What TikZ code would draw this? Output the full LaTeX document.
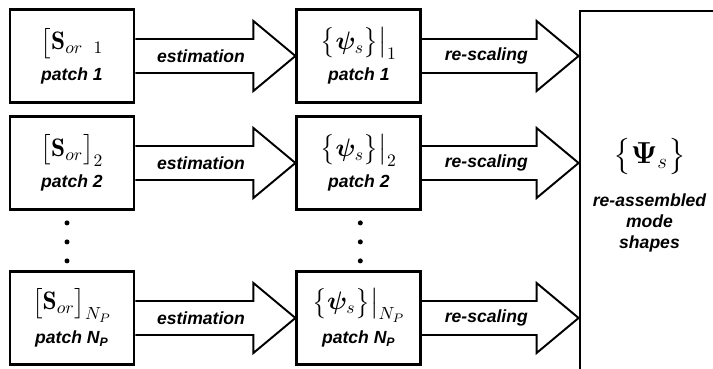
\documentclass[tikz,border=0pt]{standalone}
\usepackage{amsmath,amssymb}
\usepackage{bm}
\usepackage{fontspec}
\setsansfont{Liberation Sans}
\usetikzlibrary{calc, positioning}
\def\arrowlen{3.2cm}
\tikzstyle{patch}=[draw, line width=1.6pt, minimum width=2.48cm, minimum height=1.86cm, inner sep=0pt, align=center, font=\fontsize{10}{12}\selectfont\sffamily\bfseries\itshape]
\tikzstyle{assembled}=[patch, minimum width=2.78cm, minimum height=7.36cm]
\tikzstyle{fat arrow}=[draw, line width=1.1pt, line join=miter]
\tikzstyle{arrow label}=[font=\fontsize{10}{12}\selectfont\sffamily\bfseries\itshape]

\begin{document}
\begin{tikzpicture}[node distance=\arrowlen]
		\useasboundingbox (0,0) rectangle (14.26,7.36);
		\clip (0,0) rectangle (14.26,7.36);
		% patches: measured data
		\node[patch] (P-1) at (1.44,6.24) {{\Large$\bigl[\mathbf{S}_{or}\phantom{\bigr]}_1$}\\[4pt]patch 1};
		\node[patch] (P-2) at (1.44,4.10) {{\Large$\bigl[\mathbf{S}_{or}\bigr]_2$}\\[4pt]patch 2};
		\node[patch] (P-3) at (1.44,1.00) {{\Large$\bigl[\mathbf{S}_{or}\bigr]_{N_P}$}\\[4pt]patch N\textsubscript{P}};
		% patches: estimated mode shapes
		\node[patch, right=of P-1] (M-1) {{\Large$\bigl\{\bm{\psi}_s\bigr\}\bigr|_1$}\\[4pt]patch 1};
		\node[patch, right=of P-2] (M-2) {{\Large$\bigl\{\bm{\psi}_s\bigr\}\bigr|_2$}\\[4pt]patch 2};
		\node[patch, right=of P-3] (M-3) {{\Large$\bigl\{\bm{\psi}_s\bigr\}\bigr|_{N_P}$}\\[4pt]patch N\textsubscript{P}};
		\node[assembled] (R) at (12.99,3.46) {{\LARGE$\bigl\{\bm{\Psi}_s\bigr\}$}\\[10pt]re-assembled\\mode\\shapes};
		\foreach \i in {1,2,3}{
			\coordinate (T-\i) at (M-\i.east -| R.west);
			\draw[fat arrow] ($(P-\i.east)+(0,0.34)$) -- ($(M-\i.west)+(-0.84,0.34)$) -- ++(0,0.36) -- (M-\i.west) -- ++(-0.84,-0.7) -- ++(0,0.36) -- ($(P-\i.east)+(0,-0.34)$);
			\draw[fat arrow] ($(M-\i.east)+(0,0.34)$) -- ($(T-\i)+(-0.84,0.34)$) -- ++(0,0.36) -- (T-\i) -- ++(-0.84,-0.7) -- ++(0,0.36) -- ($(M-\i.east)+(0,-0.34)$);
			\node[arrow label] at ($(P-\i.east)!0.41!(M-\i.west)$) {estimation};
			\node[arrow label] at ($(M-\i.east)!0.41!(T-\i)$) {re-scaling};
		}
		% dots between patch 2 and patch N_P
		\foreach \k in {0,1,2}{
			\fill ($(P-2.south)+(-0.1,-0.24-0.38*\k)$) circle (0.05);
			\fill ($(M-2.south)+(0.03,-0.24-0.38*\k)$) circle (0.05);
		}
	\end{tikzpicture}
\end{document}
